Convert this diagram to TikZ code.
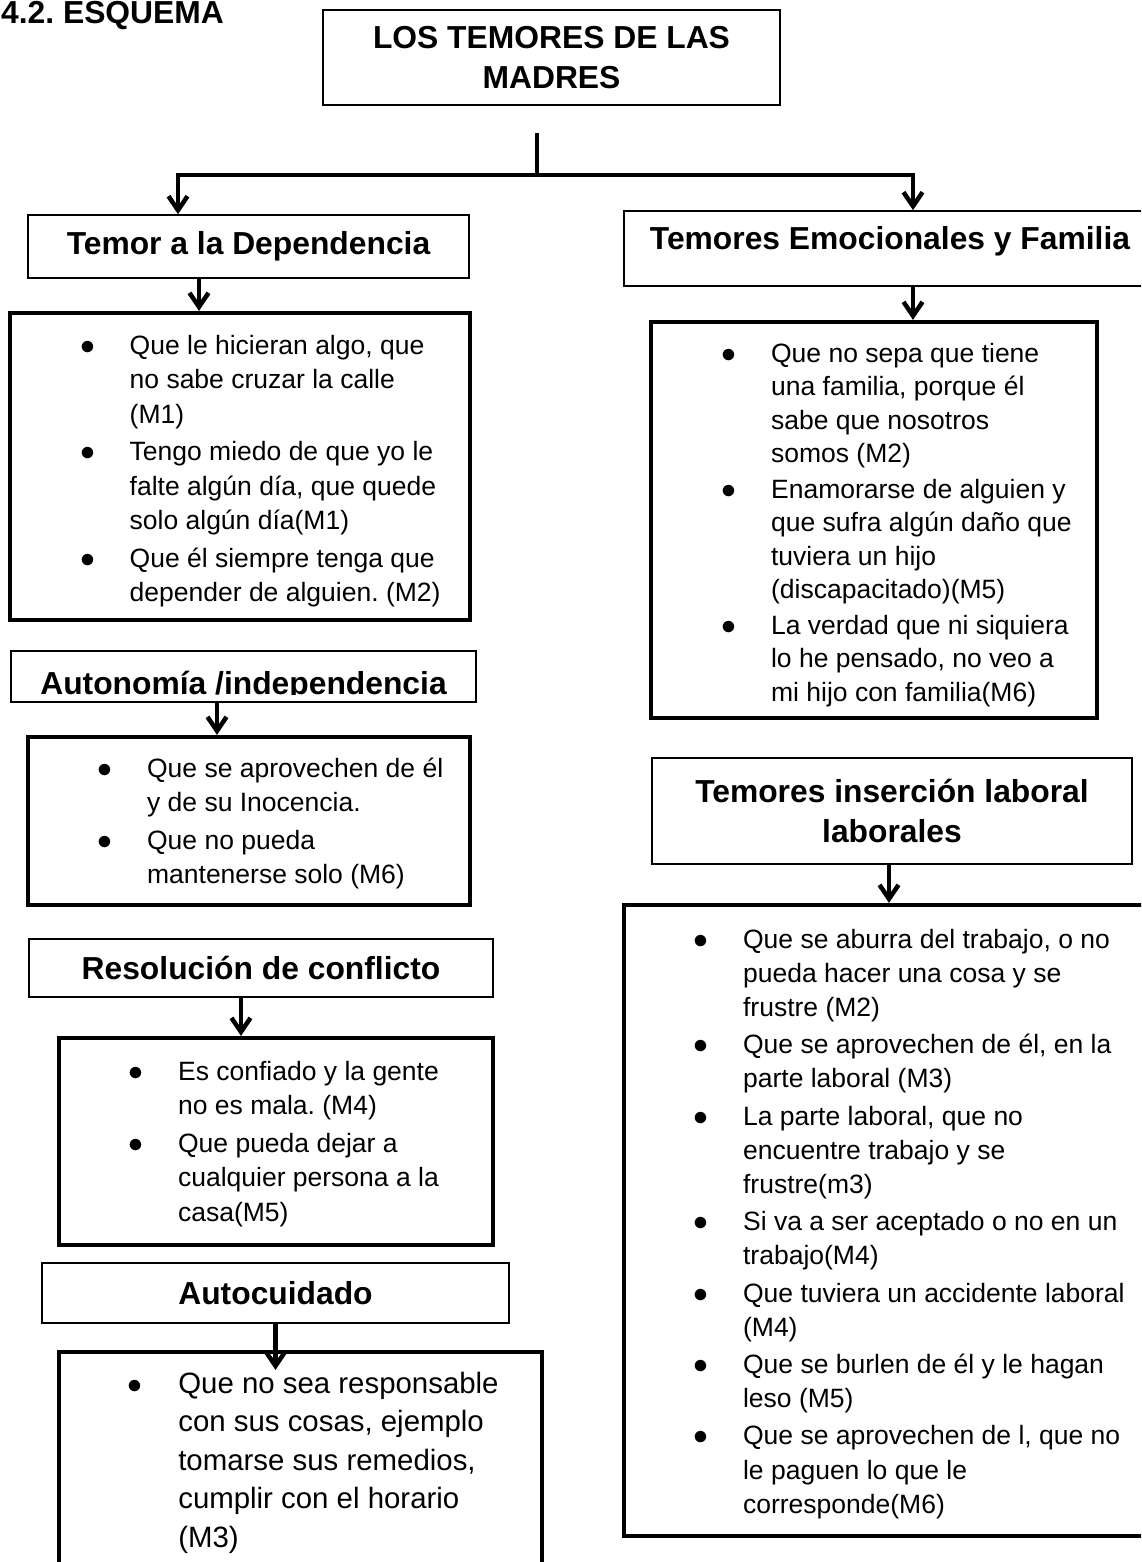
\documentclass[tikz,border=0pt]{standalone}
\usepackage{fontspec}
\setmainfont{Liberation Sans}
\usetikzlibrary{arrows.meta,positioning}
\frenchspacing
\newcommand{\punto}{\scalebox{1.2}{$\bullet$}}

\begin{document}
\begin{tikzpicture}[
  x=1pt, y=-1pt,
  titulo/.style={draw, line width=1.6pt, align=center, inner sep=0pt,
    font=\fontsize{31.8}{40}\selectfont\bfseries},
  caja/.style={draw, line width=4.2pt, inner sep=0pt},
  lista/.style={anchor=base west, inner sep=0pt, font=\fontsize{26.5}{34.5}\selectfont},
  conector/.style={line width=4.5pt},
  flecha/.style={conector, -{Straight Barb[length=14pt,width=19pt]}}
]
\useasboundingbox (0,0) rectangle (1141,1562);
\clip (0,0) rectangle (1141,1562);

% encabezado
\node[anchor=base west, inner sep=0pt, font=\fontsize{31.8}{40}\selectfont\bfseries] (esquema) at (1,24) {4.2. ESQUEMA};
\node[titulo, minimum width=457pt, minimum height=95pt] (madres) at (551.5,57.5) {LOS TEMORES DE LAS\\ MADRES};
\coordinate (tronco) at (537,133);
\coordinate (barra) at (537,175);

% columna izquierda
\node[titulo, minimum width=441pt, minimum height=63pt] (depH) at (248.5,246.5) {Temor a la Dependencia};
\node[caja, minimum width=460pt, minimum height=307pt] (depL) at (240,466.5) {};
\begin{scope}
  \clip (10,313) rectangle (470,607);
  \node[lista] (depT) at (80,354) {\begin{tabular}[t]{@{}p{49.5pt}@{}l@{}}
    \punto & Que le hicieran algo, que\\
     & no sabe cruzar la calle\\
     & (M1)\\[3pt]
    \punto & Tengo miedo de que yo le\\
     & falte algún día, que quede\\
     & solo algún día(M1)\\[3pt]
    \punto & Que él siempre tenga que\\
     & depender de alguien. (M2)
  \end{tabular}};
\end{scope}

\node[titulo, minimum width=465pt, minimum height=51pt] (autH) at (243.5,676.5) {};
\begin{scope}
  \clip (11,651) rectangle (476,694.5);
  \node[anchor=base, inner sep=0pt, font=\fontsize{31.8}{40}\selectfont\bfseries] (autT) at (243.5,694) {Autonomía /independencia};
\end{scope}
\node[caja, minimum width=442pt, minimum height=168pt] (autL) at (249,821) {};
\node[lista] (autX) at (97.4,777) {\begin{tabular}[t]{@{}p{49.5pt}@{}l@{}}
  \punto & Que se aprovechen de él\\
   & y de su Inocencia.\\[3pt]
  \punto & Que no pueda\\
   & mantenerse solo (M6)
\end{tabular}};

\node[titulo, minimum width=464pt, minimum height=58pt] (resH) at (261,968) {Resolución de conflicto};
\node[caja, minimum width=434pt, minimum height=207pt] (resL) at (276,1141.5) {};
\node[lista] (resT) at (128.4,1080) {\begin{tabular}[t]{@{}p{49.5pt}@{}l@{}}
  \punto & Es confiado y la gente\\
   & no es mala. (M4)\\[3pt]
  \punto & Que pueda dejar a\\
   & cualquier persona a la\\
   & casa(M5)
\end{tabular}};

\node[titulo, minimum width=467pt, minimum height=60pt] (autoH) at (275.5,1293) {Autocuidado};
\node[caja, minimum width=483pt, minimum height=248pt] (autoL) at (300.5,1476) {};
\node[lista, font=\fontsize{29.4}{38.5}\selectfont] (autoT) at (127.6,1393) {\begin{tabular}[t]{@{}p{50.5pt}@{}l@{}}
  \punto & Que no sea responsable\\
   & con sus cosas, ejemplo\\
   & tomarse sus remedios,\\
   & cumplir con el horario\\
   & (M3)
\end{tabular}};

% columna derecha
\node[titulo, minimum width=532pt, minimum height=75pt, text height=23.2pt, text depth=21pt] (emoH) at (890,248.5) {Temores Emocionales y Familia};
\node[caja, minimum width=446pt, minimum height=396pt] (emoL) at (874,520) {};
\node[lista, font=\fontsize{26.5}{33.5}\selectfont] (emoT) at (721.4,362) {\begin{tabular}[t]{@{}p{49.5pt}@{}l@{}}
  \punto & Que no sepa que tiene\\
   & una familia, porque él\\
   & sabe que nosotros\\
   & somos (M2)\\[2pt]
  \punto & Enamorarse de alguien y\\
   & que sufra algún daño que\\
   & tuviera un hijo\\
   & (discapacitado)(M5)\\[2pt]
  \punto & La verdad que ni siquiera\\
   & lo he pensado, no veo a\\
   & mi hijo con familia(M6)
\end{tabular}};

\node[titulo, minimum width=480pt, minimum height=106pt] (insH) at (892,811) {Temores inserción laboral\\ laborales};
\node[caja, minimum width=536pt, minimum height=631pt] (insL) at (892,1220.5) {};
\node[lista, font=\fontsize{26.5}{34.2}\selectfont] (insT) at (693.4,948) {\begin{tabular}[t]{@{}p{49.5pt}@{}l@{}}
  \punto & Que se aburra del trabajo, o no\\
   & pueda hacer una cosa y se\\
   & frustre (M2)\\[3pt]
  \punto & Que se aprovechen de él, en la\\
   & parte laboral (M3)\\[3pt]
  \punto & La parte laboral, que no\\
   & encuentre trabajo y se\\
   & frustre(m3)\\[3pt]
  \punto & Si va a ser aceptado o no en un\\
   & trabajo(M4)\\[3pt]
  \punto & Que tuviera un accidente laboral\\
   & (M4)\\[3pt]
  \punto & Que se burlen de él y le hagan\\
   & leso (M5)\\[3pt]
  \punto & Que se aprovechen de l, que no\\
   & le paguen lo que le\\
   & corresponde(M6)
\end{tabular}};

% conectores
\draw[conector] (tronco) -- (barra);
\draw[flecha] (barra) -| ([xshift=-70.5pt]depH.north);
\draw[flecha] (barra) -| ([xshift=23pt]emoH.north);
\draw[flecha] ([xshift=-49.5pt]depH.south) -- ([xshift=-49.5pt]depH.south |- depL.north);
\draw[flecha] ([xshift=-26.5pt]autH.south) -- ([xshift=-26.5pt]autH.south |- autL.north);
\draw[flecha] ([xshift=-20pt]resH.south) -- ([xshift=-20pt]resH.south |- resL.north);
\draw[flecha, shorten >=-20pt] (autoH.south) -- (autoH.south |- autoL.north);
\draw[flecha] ([xshift=23pt]emoH.south) -- ([xshift=23pt]emoH.south |- emoL.north);
\draw[flecha] ([xshift=-3pt]insH.south) -- ([xshift=-3pt]insH.south |- insL.north);
\end{tikzpicture}
\end{document}
